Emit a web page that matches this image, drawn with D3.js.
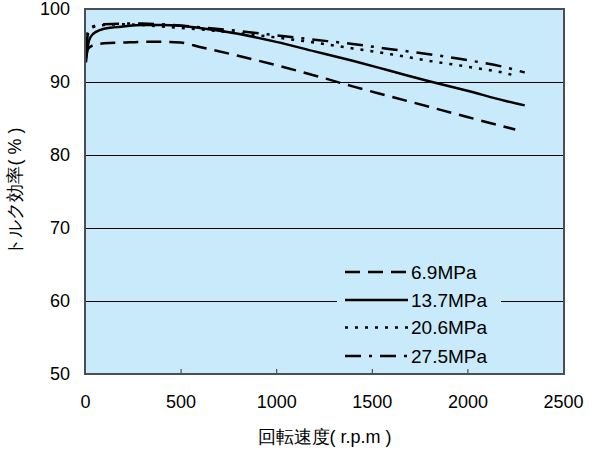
<!DOCTYPE html>
<html><head><meta charset="utf-8">
<script src="https://cdn.jsdelivr.net/npm/d3@7"></script>
<style>body{margin:0;background:#fff}svg text{font-family:"Liberation Sans",Arial,sans-serif;fill:#000}</style>
</head><body><svg id="c" width="589" height="452"></svg>
<script>
const xTicks = [0, 500, 1000, 1500, 2000, 2500];
const yTicks = [50, 60, 70, 80, 90, 100];
const seriesNames = ["6.9MPa", "13.7MPa", "20.6MPa", "27.5MPa"];
const rpm69 = [5, 15, 40, 100, 200, 300, 400, 500, 600, 800, 1000, 1200, 1400, 1600, 1800, 2000, 2250];
const eff69 = [93.3, 94.5, 95.0, 95.3, 95.4, 95.5, 95.5, 95.4, 94.8, 93.6, 92.3, 90.9, 89.4, 88.0, 86.6, 85.2, 83.5];
const rpm137 = [5, 15, 30, 60, 100, 200, 300, 400, 500, 600, 800, 1000, 1200, 1400, 1600, 1800, 2000, 2200, 2300];
const eff137 = [92.7, 95.0, 96.2, 96.9, 97.3, 97.6, 97.8, 97.8, 97.7, 97.4, 96.6, 95.5, 94.2, 92.9, 91.5, 90.1, 88.8, 87.4, 86.8];
const rpm206 = [5, 15, 40, 100, 200, 300, 400, 600, 800, 1000, 1200, 1400, 1600, 1800, 2000, 2200, 2260];
const eff206 = [95.0, 96.8, 97.5, 97.8, 97.9, 97.8, 97.6, 97.2, 96.7, 96.1, 95.4, 94.6, 93.8, 92.9, 92.1, 91.2, 90.8];
const rpm275 = [5, 15, 40, 100, 200, 300, 400, 600, 800, 1000, 1200, 1400, 1600, 1800, 2000, 2200, 2300];
const eff275 = [94.5, 96.5, 97.6, 97.9, 98.0, 98.0, 97.9, 97.5, 97.0, 96.4, 95.8, 95.2, 94.5, 93.8, 93.0, 92.0, 91.3];

const series = [
  {name: seriesNames[0], x: rpm69, y: eff69, dash: "15,8"},
  {name: seriesNames[1], x: rpm137, y: eff137, dash: null},
  {name: seriesNames[2], x: rpm206, y: eff206, dash: "3,7"},
  {name: seriesNames[3], x: rpm275, y: eff275, dash: "16,8,3,8"}
];

const L = 85, R = 564, T = 9, B = 374;
const svg = d3.select("#c");
const x = d3.scaleLinear().domain([0, 2500]).range([L, R - 1]);
const y = d3.scaleLinear().domain([50, 100]).range([B, T]);

svg.append("rect").attr("x", L).attr("y", T).attr("width", R - L).attr("height", B - T).attr("fill", "#c8eafa");

svg.append("g").selectAll("line").data(yTicks.filter(d => d > 50 && d < 100)).join("line")
  .attr("x1", L).attr("x2", R).attr("y1", d => Math.round(y(d)) + 0.5).attr("y2", d => Math.round(y(d)) + 0.5)
  .attr("stroke", "#000").attr("stroke-width", 1);

const xa = svg.append("g").attr("transform", `translate(0,${B})`)
  .call(d3.axisBottom(x).tickValues(xTicks).tickFormat(d3.format("d")).tickSizeInner(-5).tickSizeOuter(0).tickPadding(21));
xa.select(".domain").remove();
xa.selectAll("line").attr("stroke", "#333");
xa.selectAll("text").attr("font-size", 18).style("font-family", "Liberation Sans, Arial, sans-serif");
xa.selectAll(".tick").filter(d => d === 0 || d === 2500).select("line").remove();

const ya = svg.append("g").attr("transform", `translate(${L},0)`)
  .call(d3.axisLeft(y).tickValues(yTicks).tickFormat(d3.format("d")).tickSize(0).tickPadding(15));
ya.select(".domain").remove();
ya.selectAll("text").attr("font-size", 18).style("font-family", "Liberation Sans, Arial, sans-serif");

const line = d3.line().x(d => x(d[0])).y(d => y(d[1])).curve(d3.curveMonotoneX);
svg.append("clipPath").attr("id", "clp").append("rect").attr("x", L).attr("y", T).attr("width", R - L).attr("height", B - T);
svg.append("g").attr("clip-path", "url(#clp)").selectAll("path").data(series).join("path")
  .attr("d", s => line(s.x.map((v, i) => [v, s.y[i]])))
  .attr("fill", "none").attr("stroke", "#000").attr("stroke-width", 2.5)
  .attr("stroke-dasharray", s => s.dash);

const lg = svg.append("g");
lg.append("rect").attr("x", 337).attr("y", 257).attr("width", 164).attr("height", 112).attr("fill", "#c8eafa");
const rowY = [272, 300, 327.5, 356];
series.forEach((s, i) => {
  lg.append("line").attr("x1", 345).attr("x2", 408).attr("y1", rowY[i]).attr("y2", rowY[i])
    .attr("stroke", "#000").attr("stroke-width", 2.5).attr("stroke-dasharray", s.dash);
  lg.append("text").attr("x", 411).attr("y", rowY[i]).attr("dy", "0.36em").attr("font-size", 19).text(s.name);
});

svg.append("rect").attr("x", L).attr("y", T).attr("width", R - L).attr("height", B - T)
  .attr("fill", "none").attr("stroke", "#4a4f55").attr("stroke-width", 2);

svg.append("text").attr("x", (L + R) / 2).attr("y", 437).attr("dy", "0.36em").attr("text-anchor", "middle")
  .attr("font-size", 18).text("回転速度( r.p.m )");
svg.append("text").attr("transform", `translate(15,${(T + B) / 2}) rotate(-90)`).attr("dy", "0.36em")
  .attr("text-anchor", "middle").attr("font-size", 18).text("トルク効率( % )");
</script></body></html>
